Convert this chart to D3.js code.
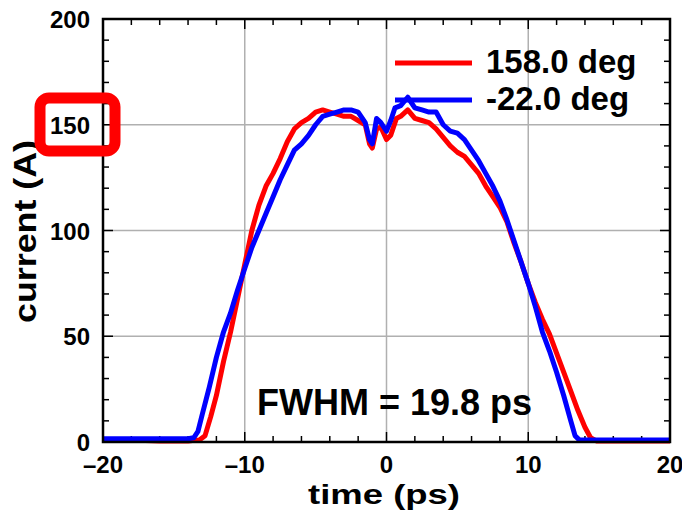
<!DOCTYPE html>
<html>
<head>
<meta charset="utf-8">
<script src="https://cdn.jsdelivr.net/npm/d3@7"></script>
<style>
  body { margin: 0; background: #fff; }
  svg { display: block; font-family: "Liberation Sans", Arial, sans-serif; font-weight: bold; }
</style>
</head>
<body>
<svg id="chart" width="682" height="513"></svg>
<script>
// time (ps) and current (A)
const redTime = [-20, -18, -16, -14, -13.2, -12.8, -12.4, -12, -11.5, -11, -10.5, -10, -9.5, -9, -8.5, -8, -7.5, -7, -6.5, -6, -5.5, -5, -4.5, -4, -3.5, -3, -2.5, -2, -1.5, -1.2, -1, -0.7, -0.4, 0, 0.3, 0.7, 1, 1.5, 2, 2.5, 3, 3.5, 4, 4.5, 5, 5.5, 6, 6.5, 7, 7.5, 8, 8.5, 9, 9.5, 10, 10.5, 11, 11.5, 12, 12.5, 13, 13.5, 14, 14.4, 14.8, 16, 18, 20]
const redCurrent = [1, 1, 0.5, 0.5, 1, 3, 12, 22, 38, 52, 68, 84, 100, 112, 121, 127, 134, 142, 148, 151, 153, 156, 157, 156, 155, 154, 154, 152, 150, 141, 139, 148, 149, 143, 145, 153, 154, 157, 153, 152, 151, 148, 144, 140, 137, 135, 131, 127, 121, 116, 111, 104, 94, 85, 75, 66, 58, 51, 42, 33, 24, 15, 7, 2, 0.5, 0.5, 0.5, 0.5]

const blueTime = [-20, -18, -16, -14, -13.6, -13.3, -13, -12.5, -12, -11.5, -11, -10.5, -10, -9.5, -9, -8.5, -8, -7.5, -7, -6.5, -6, -5.5, -5, -4.5, -4, -3.5, -3, -2.5, -2, -1.5, -1.2, -1, -0.7, -0.4, 0, 0.3, 0.6, 1, 1.5, 2, 2.5, 3, 3.5, 4, 4.5, 5, 5.5, 6, 6.5, 7, 7.5, 8, 8.5, 9, 9.5, 10, 10.5, 11, 11.5, 12, 12.5, 13, 13.3, 13.6, 14, 16, 18, 20]
const blueCurrent = [1.5, 1.5, 1.5, 1.5, 2, 5, 13, 26, 40, 52, 61, 72, 82, 92, 100, 108, 116, 124, 131, 138, 141, 145, 150, 154, 155, 156, 157, 157, 156, 151, 143, 141, 153, 151, 147, 152, 158, 159, 163, 158, 157, 156, 156, 150, 147, 146, 143, 138, 133, 127, 121, 114, 105, 95, 85, 75, 64, 52, 43, 33, 22, 10, 3, 1, 1, 1, 1, 1]

const seriesNames = ['158.0 deg', '-22.0 deg']
const seriesColors = ['#ff0000', '#0000ff']
const xTicks = [-20, -10, 0, 10, 20]
const yTicks = [0, 50, 100, 150, 200]

const svg = d3.select('#chart')
const margin = { left: 103, right: 12, top: 19, bottom: 71 }
const width = 682, height = 513

const x = d3.scaleLinear().domain([-20, 20]).range([margin.left, width - margin.right])
const y = d3.scaleLinear().domain([0, 200]).range([height - margin.bottom, margin.top])

// grid at inner major ticks
svg.append('g')
  .selectAll('line')
  .data(xTicks.slice(1, -1))
  .join('line')
  .attr('x1', d => x(d)).attr('x2', d => x(d))
  .attr('y1', y(0)).attr('y2', y(200))
  .attr('stroke', '#b0b0b0').attr('stroke-width', 1.5)

svg.append('g')
  .selectAll('line')
  .data(yTicks.slice(1, -1))
  .join('line')
  .attr('x1', x(-20)).attr('x2', x(20))
  .attr('y1', d => y(d)).attr('y2', d => y(d))
  .attr('stroke', '#b0b0b0').attr('stroke-width', 1.5)

// inward ticks on all four sides
const xMinor = d3.range(-20, 20.01, 2)
const yMinor = d3.range(0, 200.01, 10)
const tickLen = v => (v % 10 === 0 ? 10 : 6)
const yTickLen = v => (v % 50 === 0 ? 10 : 6)
const ticks = svg.append('g').attr('stroke', '#000').attr('stroke-width', 1.5)
xMinor.forEach(v => {
  ticks.append('line').attr('x1', x(v)).attr('x2', x(v)).attr('y1', y(0)).attr('y2', y(0) - tickLen(v))
  ticks.append('line').attr('x1', x(v)).attr('x2', x(v)).attr('y1', y(200)).attr('y2', y(200) + tickLen(v))
})
yMinor.forEach(v => {
  ticks.append('line').attr('y1', y(v)).attr('y2', y(v)).attr('x1', x(-20)).attr('x2', x(-20) + yTickLen(v))
  ticks.append('line').attr('y1', y(v)).attr('y2', y(v)).attr('x1', x(20)).attr('x2', x(20) - yTickLen(v))
})

// curves
const line = d3.line().x(d => x(d[0])).y(d => y(d[1]))
const redData = d3.zip(redTime, redCurrent)
const blueData = d3.zip(blueTime, blueCurrent)

svg.append('path').datum(redData)
  .attr('d', line).attr('fill', 'none')
  .attr('stroke', seriesColors[0]).attr('stroke-width', 5).attr('stroke-linejoin', 'round')
svg.append('path').datum(blueData)
  .attr('d', line).attr('fill', 'none')
  .attr('stroke', seriesColors[1]).attr('stroke-width', 5).attr('stroke-linejoin', 'round')

// frame
svg.append('rect')
  .attr('x', x(-20)).attr('y', y(200))
  .attr('width', x(20) - x(-20)).attr('height', y(0) - y(200))
  .attr('fill', 'none').attr('stroke', '#000').attr('stroke-width', 2.5)

// tick labels
svg.append('g')
  .selectAll('text')
  .data(xTicks)
  .join('text')
  .attr('x', d => x(d)).attr('y', y(0) + 31)
  .attr('text-anchor', 'middle')
  .attr('font-size', 24)
  .text(d => (d < 0 ? '\u2013' + Math.abs(d) : d))

svg.append('g')
  .selectAll('text')
  .data(yTicks)
  .join('text')
  .attr('x', x(-20) - 13).attr('y', d => y(d) + 9)
  .attr('text-anchor', 'end')
  .attr('font-size', 24)
  .text(d => d)

// axis titles
svg.append('text')
  .attr('x', 308).attr('y', 504)
  .attr('font-size', 28)
  .attr('textLength', 152).attr('lengthAdjust', 'spacingAndGlyphs')
  .text('time (ps)')

svg.append('text')
  .attr('transform', 'translate(36,323) rotate(-90)')
  .attr('font-size', 31)
  .attr('textLength', 183).attr('lengthAdjust', 'spacingAndGlyphs')
  .text('current (A)')

// legend
const legend = svg.append('g')
seriesNames.forEach((name, i) => {
  const ly = 63 + i * 37
  legend.append('line')
    .attr('x1', 395).attr('x2', 472).attr('y1', ly).attr('y2', ly)
    .attr('stroke', seriesColors[i]).attr('stroke-width', 5)
  legend.append('text')
    .attr('x', 486).attr('y', ly + 10)
    .attr('font-size', 33)
    .text(name)
})

// annotation
svg.append('text')
  .attr('x', 257).attr('y', 415)
  .attr('font-size', 36)
  .text('FWHM = 19.8 ps')

// red highlight box around the 150 label
svg.append('rect')
  .attr('x', 40).attr('y', 98).attr('width', 75).attr('height', 53)
  .attr('rx', 9)
  .attr('fill', 'none').attr('stroke', '#ff0000').attr('stroke-width', 11)
</script>
</body>
</html>
